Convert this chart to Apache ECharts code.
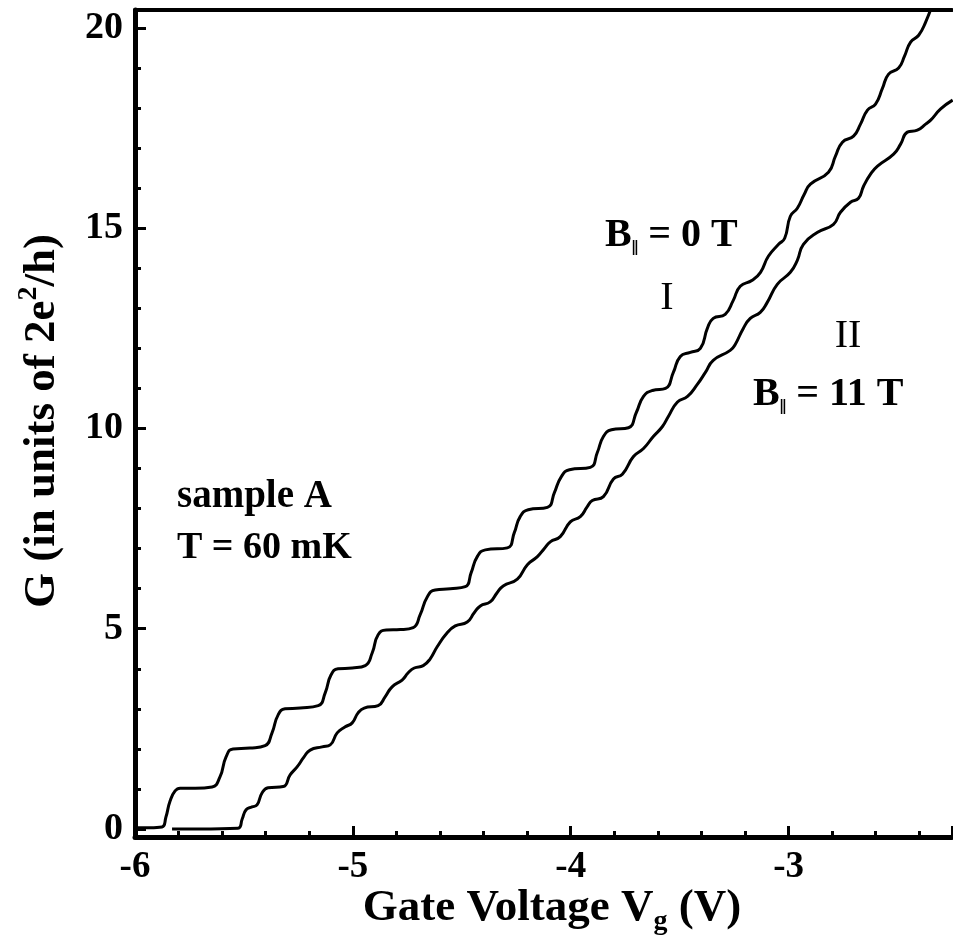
<!DOCTYPE html>
<html>
<head>
<meta charset="utf-8">
<script src="https://cdn.jsdelivr.net/npm/echarts@6/dist/echarts.min.js"></script>
<style>html,body{margin:0;padding:0;background:#fff;}#c{width:953px;height:936px;}</style>
</head>
<body>
<div id="c"></div>
<script>
// Curve I : B|| = 0 T
const curveI_V = [-6.000,-5.931,-5.876,-5.858,-5.839,-5.816,-5.793,-5.724,-5.646,-5.610,-5.582,-5.550,-5.472,-5.403,-5.371,-5.343,-5.311,-5.242,-5.159,-5.127,-5.100,-5.068,-5.003,-4.943,-4.911,-4.884,-4.847,-4.782,-4.723,-4.691,-4.658,-4.622,-4.553,-4.484,-4.457,-4.429,-4.392,-4.291,-4.259,-4.232,-4.195,-4.107,-4.075,-4.043,-4.006,-3.910,-3.878,-3.850,-3.813,-3.735,-3.699,-3.666,-3.625,-3.565,-3.529,-3.497,-3.451,-3.405,-3.373,-3.346,-3.291,-3.254,-3.222,-3.167,-3.129,-3.093,-3.046,-3.018,-2.992,-2.960,-2.928,-2.900,-2.817,-2.785,-2.753,-2.702,-2.670,-2.638,-2.601,-2.569,-2.541,-2.495,-2.468,-2.440,-2.403,-2.371,-2.339];
const curveI_G = [0.03,0.03,0.05,0.3,0.7,0.95,1.02,1.02,1.05,1.3,1.8,2.0,2.02,2.08,2.4,2.85,3.0,3.02,3.08,3.4,3.85,4.0,4.02,4.08,4.4,4.85,4.97,4.98,5.03,5.35,5.8,5.97,6.0,6.05,6.4,6.8,6.97,7.02,7.4,7.8,7.97,8.03,8.4,8.8,8.97,9.03,9.4,9.8,9.97,10.02,10.4,10.8,10.95,11.0,11.4,11.8,11.9,12.0,12.5,12.75,12.85,13.2,13.55,13.7,13.9,14.3,14.6,14.75,15.3,15.5,15.85,16.1,16.4,16.8,17.15,17.3,17.6,17.95,18.1,18.5,18.85,19.0,19.3,19.65,19.82,20.15,20.6];
// Curve II : B|| = 11 T
const curveII_V = [-5.830,-5.701,-5.527,-5.508,-5.490,-5.463,-5.440,-5.417,-5.389,-5.320,-5.288,-5.256,-5.224,-5.196,-5.141,-5.104,-5.072,-5.035,-5.003,-4.976,-4.948,-4.884,-4.852,-4.820,-4.774,-4.746,-4.718,-4.677,-4.645,-4.613,-4.567,-4.530,-4.475,-4.443,-4.415,-4.370,-4.338,-4.310,-4.245,-4.199,-4.153,-4.122,-4.094,-4.048,-4.002,-3.956,-3.924,-3.901,-3.850,-3.804,-3.763,-3.712,-3.666,-3.621,-3.579,-3.552,-3.510,-3.464,-3.419,-3.382,-3.346,-3.268,-3.245,-3.208,-3.176,-3.130,-3.098,-3.052,-2.992,-2.960,-2.932,-2.867,-2.794,-2.762,-2.716,-2.679,-2.656,-2.624,-2.592,-2.518,-2.486,-2.455,-2.409,-2.371,-2.348,-2.302,-2.247];
const curveII_G = [0.0,0.0,0.02,0.25,0.48,0.55,0.6,0.9,1.03,1.06,1.35,1.55,1.8,1.97,2.05,2.1,2.4,2.55,2.65,2.9,3.02,3.08,3.3,3.55,3.72,3.9,4.02,4.08,4.25,4.55,4.9,5.07,5.17,5.4,5.57,5.67,5.9,6.07,6.24,6.6,6.8,7.0,7.17,7.3,7.67,7.8,8.05,8.2,8.3,8.74,8.86,9.3,9.5,9.8,10.05,10.3,10.66,10.8,11.1,11.4,11.7,11.95,12.1,12.5,12.75,12.9,13.15,13.6,13.9,14.2,14.6,14.9,15.1,15.4,15.65,15.75,16.05,16.35,16.55,16.85,17.1,17.4,17.45,17.6,17.7,17.98,18.2];
// Tick values
const yMajorTicks = [0,5,10,15,20];
const yMinorTicks = [1,2,3,4,6,7,8,9,11,12,13,14,16,17,18,19];

const FONT = '"Liberation Serif", "Times New Roman", "DejaVu Serif", serif';
const zip = (a,b)=>a.map((v,i)=>[v,b[i]]);

const chart = echarts.init(document.getElementById('c'), null, {renderer:'canvas'});
const lineCommon = {type:'line', showSymbol:false, smooth:0.5, clip:true,
  lineStyle:{color:'#000', width:3}, itemStyle:{color:'#000'}, silent:true, animation:false};

chart.setOption({
  animation:false,
  backgroundColor:'#fff',
  grid:{left:135, right:1, top:10, bottom:99, containLabel:false},
  xAxis:[{
    type:'value', min:-6, max:-2.25, interval:1, position:'bottom',
    axisLine:{show:true, onZero:false, lineStyle:{color:'#000', width:5}},
    axisTick:{show:true, inside:true, length:11, lineStyle:{color:'#000', width:3}},
    minorTick:{show:true, splitNumber:5, length:6, lineStyle:{color:'#000', width:3}},
    axisLabel:{show:true, margin:12, color:'#000', fontFamily:FONT, fontWeight:'bold', fontSize:37, showMaxLabel:false},
    splitLine:{show:false}, minorSplitLine:{show:false}
  },{
    type:'value', min:-6, max:-2.25, position:'top',
    axisLine:{show:true, onZero:false, lineStyle:{color:'#000', width:4}},
    axisTick:{show:false}, axisLabel:{show:false}, splitLine:{show:false}
  }],
  yAxis:[{
    type:'value', min:-0.2, max:20.45, position:'left',
    axisLine:{show:true, onZero:false, lineStyle:{color:'#000', width:5}},
    axisTick:{show:true, inside:true, length:11, customValues:yMajorTicks, lineStyle:{color:'#000', width:3}},
    axisLabel:{show:true, customValues:yMajorTicks, margin:12, color:'#000', fontFamily:FONT, fontWeight:'bold', fontSize:38},
    splitLine:{show:false}
  },{
    type:'value', min:-0.2, max:20.45, position:'left', offset:0,
    axisLine:{show:false},
    axisTick:{show:true, inside:true, length:6, customValues:yMinorTicks, lineStyle:{color:'#000', width:3}},
    axisLabel:{show:false}, splitLine:{show:false}
  }],
  series:[
    Object.assign({name:'I', data:zip(curveI_V, curveI_G)}, lineCommon),
    Object.assign({name:'II', data:zip(curveII_V, curveII_G)}, lineCommon)
  ],
  graphic:[
    {type:'text', x:552, y:908, style:{
      text:'{a|Gate Voltage V}{s|g}{a| (V)}', align:'center', verticalAlign:'middle',
      rich:{a:{fontFamily:FONT, fontWeight:'bold', fontSize:45, lineHeight:56, fill:'#000'},
            s:{fontFamily:FONT, fontWeight:'bold', fontSize:28, lineHeight:28, verticalAlign:'bottom', fill:'#000'}}}},
    {type:'text', x:42, y:421, rotation:Math.PI/2, style:{
      text:'{a|G (in units of 2e}{p|2}{a|/h)}', align:'center', verticalAlign:'middle',
      rich:{a:{fontFamily:FONT, fontWeight:'bold', fontSize:45, lineHeight:54, fill:'#000'},
            p:{fontFamily:FONT, fontWeight:'bold', fontSize:28, lineHeight:28, verticalAlign:'top', fill:'#000'}}}},
    {type:'text', x:605, y:236, style:{
      text:'{a|B}{s|‖}{a| = 0 T}', align:'left', verticalAlign:'middle',
      rich:{a:{fontFamily:FONT, fontWeight:'bold', fontSize:40, lineHeight:48, fill:'#000'},
            s:{fontFamily:FONT, fontWeight:'bold', fontSize:20, lineHeight:24, verticalAlign:'bottom', fill:'#000'}}}},
    {type:'text', x:667, y:298, style:{text:'I', align:'center', verticalAlign:'middle',
      fontFamily:FONT, fontSize:40, fill:'#000'}},
    {type:'text', x:848, y:336, style:{text:'II', align:'center', verticalAlign:'middle',
      fontFamily:FONT, fontSize:40, fill:'#000'}},
    {type:'text', x:753, y:395, style:{
      text:'{a|B}{s|‖}{a| = 11 T}', align:'left', verticalAlign:'middle',
      rich:{a:{fontFamily:FONT, fontWeight:'bold', fontSize:40, lineHeight:48, fill:'#000'},
            s:{fontFamily:FONT, fontWeight:'bold', fontSize:20, lineHeight:24, verticalAlign:'bottom', fill:'#000'}}}},
    {type:'text', x:177, y:497, style:{text:'sample A', align:'left', verticalAlign:'middle',
      fontFamily:FONT, fontWeight:'bold', fontSize:39, fill:'#000'}},
    {type:'text', x:177, y:548, style:{text:'T = 60 mK', align:'left', verticalAlign:'middle',
      fontFamily:FONT, fontWeight:'bold', fontSize:38, fill:'#000'}}
  ]
});
</script>
</body>
</html>
